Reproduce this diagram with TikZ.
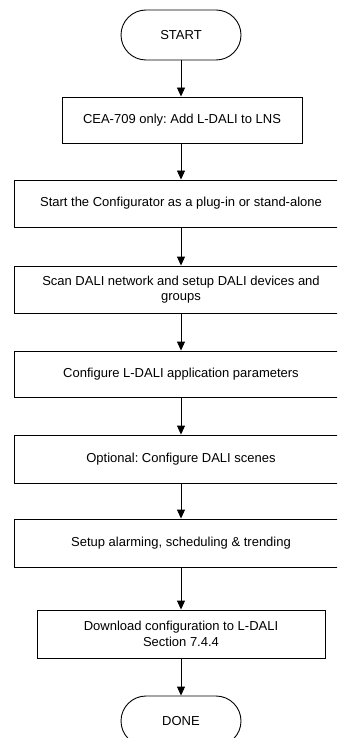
\documentclass[tikz,border=0pt]{standalone}
\usepackage{fontspec}
\setmainfont{Liberation Sans}
\frenchspacing
\usetikzlibrary{arrows.meta}
\begin{document}
\begin{tikzpicture}[x=1pt,y=-1pt,
  base/.style={draw=black,line width=0.9pt,align=center,inner sep=0pt,
    font=\fontsize{13}{15.5}\selectfont,text=black},
  term/.style={base,rounded corners=25pt,minimum width=120pt,minimum height=50pt},
  proc/.style={base,minimum height=47pt},
  arr/.style={line width=0.9pt,-{Triangle[length=9pt,width=8pt]}}]
\useasboundingbox (0,0) rectangle (337,738);
\clip (0,0) rectangle (337,738);
\fill[white] (0,0) rectangle (337,738);
\node[term] (start) at (181,35) {START};
\node[proc,minimum width=240pt,minimum height=46pt] (b1) at (182,120) {CEA-709 only: Add L-DALI to LNS};
\node[proc,minimum width=334pt] (b2) at (181,203.5) {Start the Configurator as a plug-in or stand-alone};
\node[proc,minimum width=334pt] (b3) at (181,289.5) {Scan DALI network and setup DALI devices and\\groups};
\node[proc,minimum width=334pt,minimum height=46pt] (b4) at (181,374) {Configure L-DALI application parameters};
\node[proc,minimum width=334pt,minimum height=48pt] (b5) at (181,459) {Optional: Configure DALI scenes};
\node[proc,minimum width=334pt,minimum height=48pt] (b6) at (181,543) {Setup alarming, scheduling \& trending};
\node[proc,minimum width=288pt,minimum height=48pt] (b7) at (181,634) {Download configuration to L-DALI\\Section 7.4.4};
\node[term] (done) at (181,721) {DONE};
\draw[arr] (start.south) -- (start.south |- b1.north);
\draw[arr] (start.south |- b1.south) -- (start.south |- b2.north);
\draw[arr] (b2) -- (b3);
\draw[arr] (b3) -- (b4);
\draw[arr] (b4) -- (b5);
\draw[arr] (b5) -- (b6);
\draw[arr] (b6) -- (b7);
\draw[arr] (b7) -- (done);
\end{tikzpicture}
\end{document}
